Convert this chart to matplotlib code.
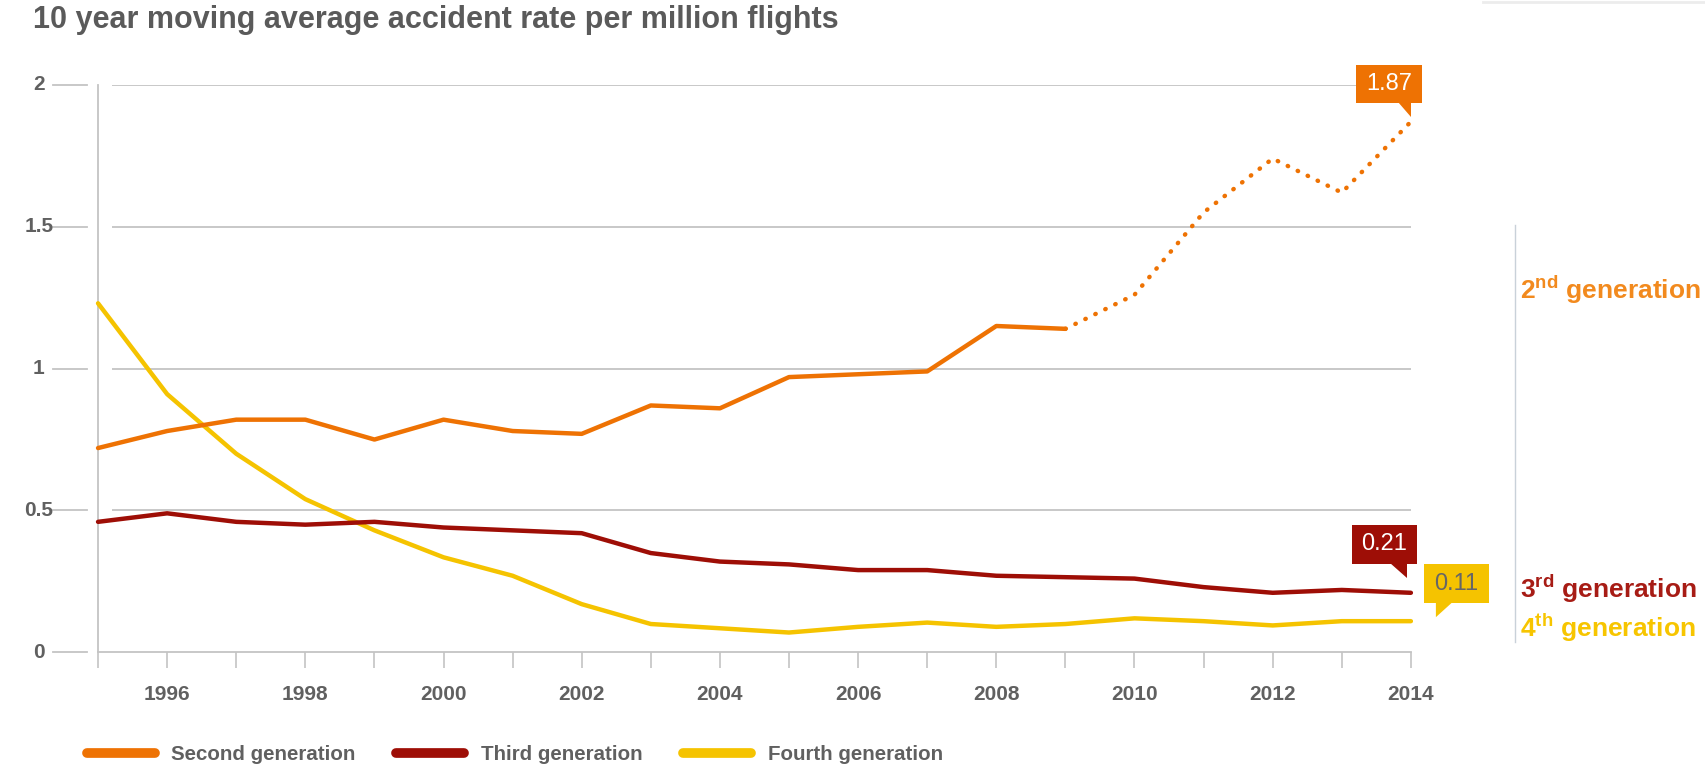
import matplotlib
matplotlib.use("Agg")
import matplotlib.pyplot as plt
import matplotlib.transforms as mtransforms
from matplotlib.lines import Line2D
from matplotlib.patches import Polygon

plt.rcParams['font.family'] = ['Liberation Sans', 'DejaVu Sans']
plt.rcParams['mathtext.fontset'] = 'custom'
plt.rcParams['mathtext.rm'] = 'Liberation Sans:bold'
plt.rcParams['mathtext.bf'] = 'Liberation Sans:bold'

# datos
years = list(range(1995, 2015))
second_gen = [0.72, 0.78, 0.82, 0.82, 0.75, 0.82, 0.78, 0.77, 0.87, 0.86,
              0.97, 0.98, 0.99, 1.15, 1.14, 1.26, 1.55, 1.74, 1.62, 1.87]
third_gen = [0.46, 0.49, 0.46, 0.45, 0.46, 0.44, 0.43, 0.42, 0.35, 0.32,
             0.31, 0.29, 0.29, 0.27, 0.265, 0.26, 0.23, 0.21, 0.22, 0.21]
fourth_gen = [1.23, 0.91, 0.70, 0.54, 0.43, 0.335, 0.27, 0.17, 0.10, 0.085,
              0.07, 0.09, 0.105, 0.09, 0.10, 0.12, 0.11, 0.095, 0.11, 0.11]
solid_until = 2009  # a partir de aqui la serie de segunda generacion es punteada
y_ticks = [0, 0.5, 1, 1.5, 2]
y_tick_labels = ["0", "0.5", "1", "1.5", "2"]
x_label_years = list(range(1996, 2015, 2))

ORANGE = "#EE7203"
RED = "#9E0E06"
YELLOW = "#F5C300"
GRAY_TXT = "#606060"
GRID = "#c4c4c4"

fig = plt.figure(figsize=(17.05, 7.65), dpi=100)
ax = fig.add_axes([0.0575, 0.1472, 0.770, 0.742])
ax.set_xlim(1995, 2014)
ax.set_ylim(0, 2)

# rejilla horizontal (empieza un poco despues del eje)
for yt in y_ticks[1:]:
    ax.hlines(yt, 1995.2, 2014, color=GRID, lw=1.3, zorder=1)

# marcas y etiquetas del eje y
blend = mtransforms.blended_transform_factory(ax.transAxes, ax.transData)
for yt, lab in zip(y_ticks, y_tick_labels):
    ax.plot([-0.0343, -0.0084], [yt, yt], transform=blend, color=GRID, lw=1.3, clip_on=False)
    ax.text(-0.045, yt, lab, transform=blend, ha="center", va="center",
            fontsize=15, fontweight="bold", color=GRAY_TXT)

ax.set_yticks([])
ax.set_xticks(years, minor=True)
ax.set_xticks(x_label_years)
ax.set_xticklabels([str(y) for y in x_label_years], fontsize=15, fontweight="bold",
                   color=GRAY_TXT)
ax.tick_params(axis="x", which="both", length=11.5, width=1.2, color=GRID, pad=12)
for s in ["top", "right"]:
    ax.spines[s].set_visible(False)
for s in ["left", "bottom"]:
    ax.spines[s].set_color(GRID)
    ax.spines[s].set_linewidth(1.3)

# series
idx = years.index(solid_until) + 1
ax.plot(years[:idx], second_gen[:idx], color=ORANGE, lw=3.2, solid_capstyle="round",
        solid_joinstyle="round", clip_on=False, zorder=4, label="Second generation")
ax.plot(years[idx - 1:], second_gen[idx - 1:], color=ORANGE, lw=3.2,
        linestyle=(0, (0.1, 2.4)), dash_capstyle="round", clip_on=False, zorder=4)
ax.plot(years, third_gen, color=RED, lw=3.2, solid_capstyle="round",
        solid_joinstyle="round", clip_on=False, zorder=4, label="Third generation")
ax.plot(years, fourth_gen, color=YELLOW, lw=3.2, solid_capstyle="round",
        solid_joinstyle="round", clip_on=False, zorder=3, label="Fourth generation")


# globos con el ultimo valor (desplazamientos en pixeles respecto al punto)
def callout(val, color, txtcolor, box, tri):
    px, py = ax.transData.transform((years[-1], val))
    x0, x1, y0, y1 = box
    rect = [(px + x0, py + y0), (px + x1, py + y0), (px + x1, py + y1), (px + x0, py + y1)]
    fig.add_artist(Polygon(rect, closed=True, fc=color, ec="none",
                           transform=mtransforms.IdentityTransform(), zorder=6))
    fig.add_artist(Polygon([(px + dx, py + dy) for dx, dy in tri], closed=True, fc=color,
                           ec="none", transform=mtransforms.IdentityTransform(), zorder=6))
    fig.text((px + (x0 + x1) / 2) / fig.bbox.width, (py + (y0 + y1) / 2) / fig.bbox.height,
             f"{val:.2f}", ha="center", va="center", fontsize=17, color=txtcolor, zorder=7)


callout(second_gen[-1], ORANGE, "white", (-55, 11, 18.7, 56.7),
        [(-13, 19.2), (0, 19.2), (0, 4.7)])
callout(third_gen[-1], RED, "white", (-59, 6, 28.8, 67.8),
        [(-21, 29.3), (-4, 29.3), (-4, 14.8)])
callout(fourth_gen[-1], YELLOW, "#666666", (13, 78, 18, 57),
        [(25, 18.5), (41, 18.5), (25, 4)])

# titulo
fig.text(0.0191, 0.974, "10 year moving average accident rate per million flights",
         fontsize=22, fontweight="bold", color="#5a5a5a", va="center", ha="left")

# etiquetas a la derecha
fig.add_artist(Line2D([0.8886, 0.8886], [0.706, 0.161], color="#c9d1d9", lw=1))
fig.text(0.8915, 0.622, "2$^{\\mathrm{nd}}$ generation", fontsize=19, fontweight="bold",
         color="#F28A1E", va="center")
fig.text(0.8915, 0.230, "3$^{\\mathrm{rd}}$ generation", fontsize=19, fontweight="bold",
         color="#A71C15", va="center")
fig.text(0.8915, 0.180, "4$^{\\mathrm{th}}$ generation", fontsize=19, fontweight="bold",
         color="#F7C500", va="center")
fig.add_artist(Line2D([0.870, 1.0], [0.998, 0.998], color="#ececec", lw=2))

# leyenda
leg = fig.legend(loc="center left", bbox_to_anchor=(0.040, 0.014), ncol=3, frameon=False,
                 handlelength=3.3, handletextpad=0.8, columnspacing=2.0,
                 prop={"size": 14.8, "weight": "bold"})
for line in leg.get_lines():
    line.set_linewidth(7)
    line.set_solid_capstyle("round")
for t in leg.get_texts():
    t.set_color(GRAY_TXT)

fig.savefig("out.png", dpi=100)
